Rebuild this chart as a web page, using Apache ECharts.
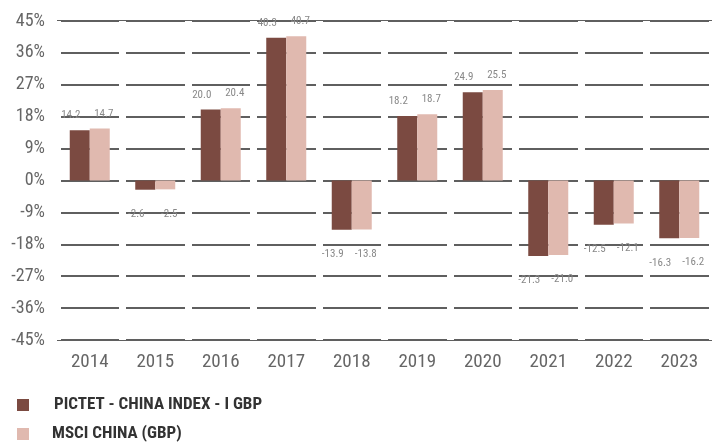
<!DOCTYPE html>
<html>
<head>
<meta charset="utf-8">
<script src="https://cdn.jsdelivr.net/npm/echarts@6/dist/echarts.min.js"></script>
<style>
html,body{margin:0;padding:0;background:#fff;}
#chart{width:712px;height:443px;}
</style>
</head>
<body>
<div id="chart"></div>
<script>
// 年份与两组收益率
var years = ['2014','2015','2016','2017','2018','2019','2020','2021','2022','2023'];
var fundName = 'PICTET - CHINA INDEX - I GBP';
var indexName = 'MSCI CHINA (GBP)';
var fundValues = [14.2, -2.6, 20.0, 40.3, -13.9, 18.2, 24.9, -21.3, -12.5, -16.3];
var indexValues = [14.7, -2.5, 20.4, 40.7, -13.8, 18.7, 25.5, -21.0, -12.1, -16.2];

var fontName = '"Roboto Condensed", sans-serif';

// 正值标签放上面，负值放下面
function toItems(list, dx) {
	var out = [];
	for (var i = 0; i < list.length; i++) {
		var v = list[i];
		out.push({
			value: v,
			label: {
				position: v >= 0 ? 'top' : 'bottom',
				distance: v >= 0 ? 9 : 19,
				offset: [dx, 0]
			}
		});
	}
	return out;
}

// 图例：每行一个
function legendRow(name, top, padLeft) {
	return {
		left: 12,
		top: top,
		itemWidth: 12,
		itemHeight: 12,
		icon: 'rect',
		textStyle: {
			fontFamily: fontName,
			fontSize: 17,
			lineHeight: 18,
			fontWeight: 'bold',
			color: '#333',
			padding: [0, 0, 0, padLeft]
		},
		data: [name]
	};
}

var chart = echarts.init(document.getElementById('chart'));
chart.setOption({
	animation: false,
	backgroundColor: '#fff',
	textStyle: { fontFamily: fontName },
	grid: { left: 57, right: -3, top: 21, bottom: 103 },
	legend: [legendRow(fundName, 391, 20), legendRow(indexName, 420, 18)],
	xAxis: {
		type: 'category',
		data: years,
		z: 1,
		axisLine: { show: false },
		axisTick: { show: false },
		axisLabel: { color: '#666', fontSize: 19, margin: 13, fontFamily: fontName },
		splitLine: { show: true, lineStyle: { color: '#fff', width: 7 } }
	},
	yAxis: {
		type: 'value',
		min: -45,
		max: 45,
		interval: 9,
		z: 0,
		axisLine: { show: false },
		axisTick: { show: false },
		axisLabel: { color: '#666', fontSize: 18, margin: 12, formatter: '{value}%', fontFamily: fontName },
		splitLine: { lineStyle: { color: '#5f5f5f', width: 2 } }
	},
	series: [{
		name: fundName,
		type: 'bar',
		z: 5,
		barWidth: 20,
		barGap: '0%',
		itemStyle: { color: '#7b4a41' },
		label: {
			show: true,
			color: '#888',
			fontSize: 11,
			fontFamily: fontName,
			formatter: function(p) { return p.value.toFixed(1); }
		},
		data: toItems(fundValues, -9)
	}, {
		name: indexName,
		type: 'bar',
		z: 5,
		barWidth: 20,
		barGap: '0%',
		itemStyle: { color: '#e0b9af' },
		label: {
			show: true,
			color: '#888',
			fontSize: 11,
			fontFamily: fontName,
			formatter: function(p) { return p.value.toFixed(1); }
		},
		data: toItems(indexValues, 4)
	}]
});
</script>
</body>
</html>
